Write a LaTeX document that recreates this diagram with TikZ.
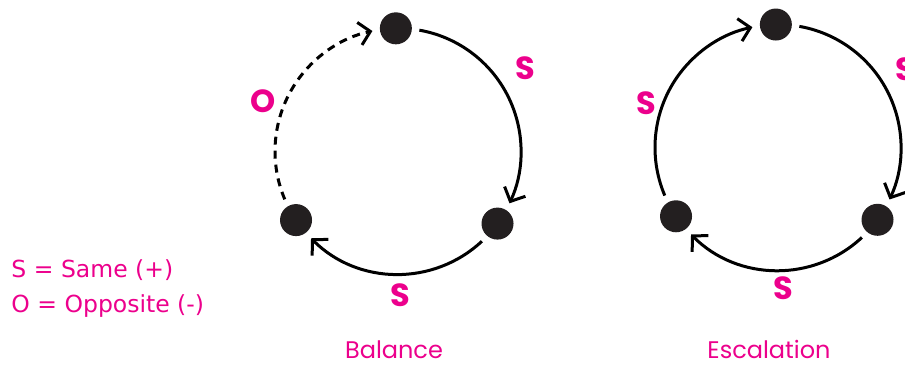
\documentclass[tikz,border=0pt]{standalone}
\usepackage{fontspec}
\setmainfont{DejaVu Sans}
\newfontfamily\geofont{Poppins}
\usetikzlibrary{arrows.meta,calc}
\definecolor{pink}{HTML}{EC008C}
\definecolor{ink}{HTML}{231F20}

\begin{document}
\begin{tikzpicture}[
  x=1pt,y=1pt,line width=3pt,line join=miter,
  >={Straight Barb[length=11pt,width=23pt]},
  dot/.style={circle,fill=ink,minimum size=32pt,inner sep=0pt},
  link/.style={draw=black,->},
  sign/.style={text=pink,font=\geofont\bfseries\fontsize{32}{32}\selectfont,inner sep=0pt},
  title/.style={text=pink,font=\geofont\fontsize{24}{24}\selectfont,inner sep=0pt,anchor=base},
  key/.style={text=pink,font=\fontsize{23.5}{23.5}\selectfont,inner sep=0pt,anchor=base west}
]
\useasboundingbox (0,0) rectangle (905,365);

% Balance loop: two same links and one opposite (dashed) link.
\coordinate (cb) at (398,213.7);
\coordinate (b1) at ($(cb)+(80:123pt)$);
\coordinate (b2) at ($(cb)+(-47:123pt)$);
\coordinate (b3) at ($(cb)+(203:123pt)$);
\draw[link] (b1) arc[start angle=80,end angle=-25,radius=123pt];
\draw[link] (b2) arc[start angle=-47,end angle=-135,radius=123pt];
\draw[link,dash pattern=on 8pt off 6pt] (b3) arc[start angle=203,end angle=102,radius=123pt];
\node[dot] (bt) at ($(cb)+(91:123pt)$) {};
\node[dot] (br) at ($(cb)+(-36:123pt)$) {};
\node[dot] (bl) at ($(cb)+(214:123pt)$) {};
\node[sign] (bsr) at (525.7,296.7) {S};
\node[sign] (bsb) at (400,70) {S};
\node[sign] (bso) at (263.3,263.3) {O};
\node[title] (tb) at (394,7) {Balance};

% Escalation loop: every link is a same link.
\coordinate (ce) at (778,217.5);
\coordinate (e1) at ($(ce)+(80:123pt)$);
\coordinate (e2) at ($(ce)+(-47:123pt)$);
\coordinate (e3) at ($(ce)+(203:123pt)$);
\draw[link] (e1) arc[start angle=80,end angle=-25,radius=123pt];
\draw[link] (e2) arc[start angle=-47,end angle=-135,radius=123pt];
\draw[link] (e3) arc[start angle=203,end angle=102,radius=123pt];
\node[dot] (et) at ($(ce)+(91:123pt)$) {};
\node[dot] (er) at ($(ce)+(-36:123pt)$) {};
\node[dot] (el) at ($(ce)+(214:123pt)$) {};
\node[sign] (esr) at (905.7,296) {S};
\node[sign] (esb) at (783,77) {S};
\node[sign] (esl) at (646.7,261.7) {S};
\node[title] (te) at (769,7) {Escalation};

% Key
\node[key] (ks) at (10,87.7) {S = Same (+)};
\node[key] (ko) at (10,52.3) {O = Opposite (-)};
\end{tikzpicture}
\end{document}
